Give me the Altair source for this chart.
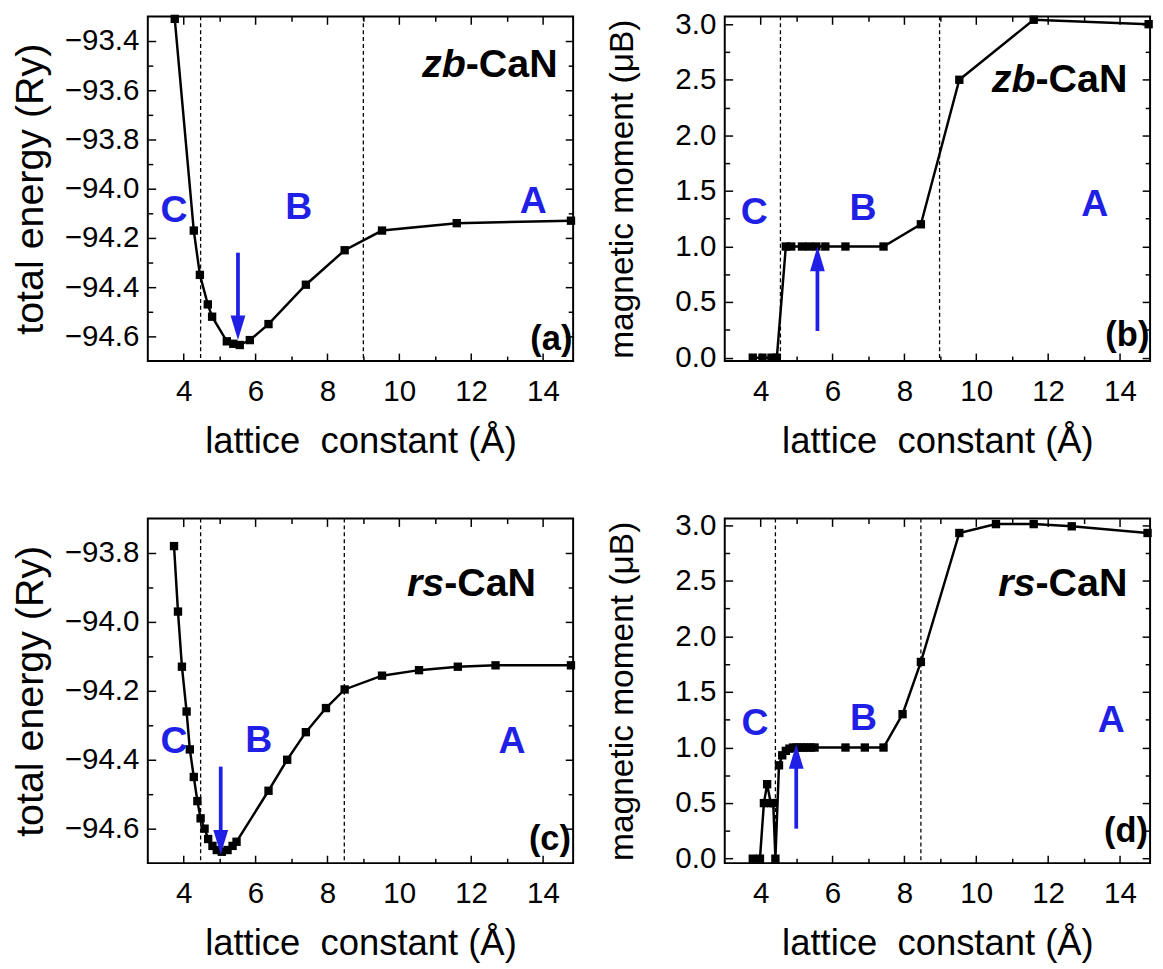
import altair as alt
import pandas as pd

FONT = "Liberation Sans"
BLUE = "#1f1fe6"

X_DOMAIN = [3.0, 14.84]
X_MAJOR = [4, 6, 8, 10, 12, 14]
X_MINOR = [5, 7, 9, 11, 13]
X_TITLE = "lattice\u00a0 constant (Å)"

# (a) zb-CaN total energy (Ry)
A_X = [3.75, 4.28, 4.45, 4.67, 4.79, 5.2, 5.38, 5.56, 5.84, 6.36, 7.4, 8.48, 9.52, 11.6, 14.78]
A_Y = [-93.31, -94.17, -94.35, -94.47, -94.52, -94.62, -94.63, -94.635, -94.615, -94.55,
       -94.39, -94.25, -94.17, -94.14, -94.13]
# (b) zb-CaN magnetic moment
B_X = [3.78, 4.05, 4.3, 4.45, 4.7, 4.85, 5.15, 5.35, 5.55, 5.8, 6.36, 7.42, 8.46, 9.53, 11.6, 14.8]
B_Y = [0.0, 0.0, 0.0, 0.0, 1.0, 1.0, 1.0, 1.0, 1.0, 1.0, 1.0, 1.0, 1.2, 2.5, 3.04, 3.0]
# (c) rs-CaN total energy (Ry)
C_X = [3.73, 3.84, 3.95, 4.08, 4.17, 4.28, 4.38, 4.47, 4.58, 4.68, 4.8, 4.92, 5.06, 5.22,
       5.36, 5.47, 6.36, 6.88, 7.4, 7.96, 8.48, 9.52, 10.55, 11.63, 12.68, 14.78]
C_Y = [-93.78, -93.97, -94.13, -94.26, -94.37, -94.45, -94.52, -94.57, -94.60, -94.63,
       -94.65, -94.662, -94.667, -94.662, -94.65, -94.638, -94.49, -94.40, -94.32, -94.25,
       -94.196, -94.156, -94.14, -94.13, -94.126, -94.126]
# (d) rs-CaN magnetic moment
D_X = [3.78, 3.98, 4.09, 4.18, 4.28, 4.35, 4.41, 4.51, 4.6, 4.7, 4.8, 4.9, 5.0, 5.1, 5.2,
       5.3, 5.4, 5.5, 6.36, 6.9, 7.42, 7.95, 8.46, 9.53, 10.55, 11.6, 12.66, 14.77]
D_Y = [0.0, 0.0, 0.5, 0.67, 0.5, 0.5, 0.0, 0.84, 0.93, 0.97, 0.99, 1.0, 1.0, 1.0, 1.0,
       1.0, 1.0, 1.0, 1.0, 1.0, 1.0, 1.3, 1.77, 2.93, 3.01, 3.01, 2.99, 2.93]

E_ZB_MAJOR = [-93.4, -93.6, -93.8, -94.0, -94.2, -94.4, -94.6]
E_ZB_MINOR = [-93.5, -93.7, -93.9, -94.1, -94.3, -94.5]
E_RS_MAJOR = [-93.8, -94.0, -94.2, -94.4, -94.6]
E_RS_MINOR = [-93.9, -94.1, -94.3, -94.5]
M_MAJOR = [0.0, 0.5, 1.0, 1.5, 2.0, 2.5, 3.0]
M_MINOR = [0.25, 0.75, 1.25, 1.75, 2.25, 2.75]

W, H = 432, 350


def tick_axis(orient, values, size, **kw):
    return alt.Axis(orient=orient, values=values, offset=-size, tickSize=size, minExtent=0,
                    tickWidth=1.5, tickColor="black", domain=False, grid=False, **kw)


def panel(px, py, ydom, ymaj, ymin, ytitle, ytitle_size, ytpad, vlines, arrow,
          letters, name, tag):
    xs = alt.Scale(domain=X_DOMAIN, nice=False, zero=False)
    ys = alt.Scale(domain=ydom, nice=False, zero=False)
    df = pd.DataFrame({"x": px, "y": py})

    main_x = tick_axis("bottom", X_MAJOR, 8, labels=True, format="d", labelFontSize=30,
                       labelPadding=16, labelColor="black", labelFont=FONT,
                       title=X_TITLE, titleFontSize=37, titleFontWeight="normal",
                       titlePadding=18, titleColor="black", titleFont=FONT)
    main_y = tick_axis("left", ymaj, 8, labels=True, format=".1f", labelFontSize=30,
                       labelPadding=9, labelColor="black", labelFont=FONT,
                       title=ytitle, titleFontSize=ytitle_size, titleFontWeight="normal",
                       titlePadding=ytpad, titleColor="black", titleFont=FONT)

    def enc(xaxis, yaxis):
        return dict(x=alt.X("x:Q", scale=xs, axis=xaxis), y=alt.Y("y:Q", scale=ys, axis=yaxis))

    vl = alt.Chart(pd.DataFrame({"x": vlines})).mark_rule(
        color="black", strokeWidth=1.3, strokeDash=[4, 3]).encode(
        x=alt.X("x:Q", scale=xs, axis=None))
    line = alt.Chart(df).mark_line(color="black", strokeWidth=2.5).encode(**enc(main_x, main_y))
    pts = alt.Chart(df).mark_square(size=72, color="black", opacity=1).encode(**enc(None, None))
    t1 = alt.Chart(df).mark_point(opacity=0).encode(**enc(
        tick_axis("bottom", X_MINOR, 5, labels=False, title=None),
        tick_axis("left", ymin, 5, labels=False, title=None)))
    t2 = alt.Chart(df).mark_point(opacity=0).encode(**enc(
        tick_axis("top", X_MAJOR, 8, labels=False, title=None),
        tick_axis("right", ymaj, 8, labels=False, title=None)))
    t3 = alt.Chart(df).mark_point(opacity=0).encode(**enc(
        tick_axis("top", X_MINOR, 5, labels=False, title=None),
        tick_axis("right", ymin, 5, labels=False, title=None)))

    ax_, tail, tip, up = arrow
    adf = pd.DataFrame({"x": [ax_], "y": [tail], "y2": [tip]})
    shaft = alt.Chart(adf).mark_rule(color=BLUE, strokeWidth=3.8,
                                     y2Offset=(18 if up else -18)).encode(
        x=alt.X("x:Q", scale=xs, axis=None), y=alt.Y("y:Q", scale=ys, axis=None), y2="y2:Q")
    head_path = "M -0.6 2 L 0.6 2 L 0 0 Z" if up else "M -0.6 -2 L 0.6 -2 L 0 0 Z"
    head = alt.Chart(adf).mark_point(shape=head_path, size=625, filled=True, color=BLUE,
                                     opacity=1, strokeWidth=0).encode(
        x=alt.X("x:Q", scale=xs, axis=None), y=alt.Y("y2:Q", scale=ys, axis=None))

    ldf = pd.DataFrame({"x": [p[0] for p in letters], "y": [p[1] for p in letters],
                        "t": [p[2] for p in letters]})
    let = alt.Chart(ldf).mark_text(font=FONT, fontSize=38, fontWeight="bold", color=BLUE,
                                   baseline="middle", align="center").encode(
        x=alt.X("x:Q", scale=xs, axis=None), y=alt.Y("y:Q", scale=ys, axis=None), text="t:N")

    nx, ny, pre = name
    ndf = pd.DataFrame({"x": [nx], "y": [ny], "a": [pre], "b": ["-CaN"]})
    n1 = alt.Chart(ndf).mark_text(font=FONT, fontSize=40, fontWeight="bold", fontStyle="italic",
                                  color="black", baseline="middle", align="right").encode(
        x=alt.X("x:Q", scale=xs, axis=None), y=alt.Y("y:Q", scale=ys, axis=None), text="a:N")
    n2 = alt.Chart(ndf).mark_text(font=FONT, fontSize=40, fontWeight="bold",
                                  color="black", baseline="middle", align="left").encode(
        x=alt.X("x:Q", scale=xs, axis=None), y=alt.Y("y:Q", scale=ys, axis=None), text="b:N")

    tx, ty, tt = tag
    tdf = pd.DataFrame({"x": [tx], "y": [ty], "t": [tt]})
    tg = alt.Chart(tdf).mark_text(font=FONT, fontSize=35, fontWeight="bold", color="black",
                                  baseline="middle", align="right").encode(
        x=alt.X("x:Q", scale=xs, axis=None), y=alt.Y("y:Q", scale=ys, axis=None), text="t:N")

    return alt.layer(vl, line, pts, t1, t2, t3, shaft, head, let, n1, n2, tg).resolve_axis(
        x="independent", y="independent").properties(width=W, height=H)


pa = panel(A_X, A_Y, [-94.7, -93.3], E_ZB_MAJOR, E_ZB_MINOR, "total energy (Ry)", 40, 14,
           [4.47, 9.0], (5.51, -94.26, -94.615, False),
           [(3.73, -94.09, "C"), (7.2, -94.08, "B"), (13.73, -94.055, "A")],
           (11.85, -93.5, "zb"), (14.82, -94.61, "(a)"))
pb = panel(B_X, B_Y, [-0.03, 3.07], M_MAJOR, M_MINOR, "magnetic moment (μB)", 34, 36,
           [4.55, 8.98], (5.58, 0.24, 1.0, True),
           [(3.82, 1.3, "C"), (6.85, 1.34, "B"), (13.3, 1.37, "A")],
           (11.65, 2.5, "zb"), (14.82, 0.2, "(b)"))
pc = panel(C_X, C_Y, [-94.7, -93.7], E_RS_MAJOR, E_RS_MINOR, "total energy (Ry)", 40, 14,
           [4.47, 8.47], (5.03, -94.42, -94.675, False),
           [(3.73, -94.35, "C"), (6.09, -94.347, "B"), (13.14, -94.35, "A")],
           (11.25, -93.89, "rs"), (14.78, -94.63, "(c)"))
pd_ = panel(D_X, D_Y, [-0.04, 3.06], M_MAJOR, M_MINOR, "magnetic moment (μB)", 34, 36,
            [4.41, 8.46], (4.99, 0.27, 1.03, True),
            [(3.84, 1.21, "C"), (6.86, 1.255, "B"), (13.76, 1.24, "A")],
            (11.65, 2.47, "rs"), (14.78, 0.25, "(d)"))

chart = alt.concat(pa, pb, pc, pd_, columns=2, spacing={"row": 160, "column": 154},
                   bounds="flush").properties(
    padding={"left": 2, "top": -8, "right": 0, "bottom": 0}
).configure_view(stroke="black", strokeWidth=2)

chart.save("out.html", embed_options={"renderer": "svg", "actions": False})
